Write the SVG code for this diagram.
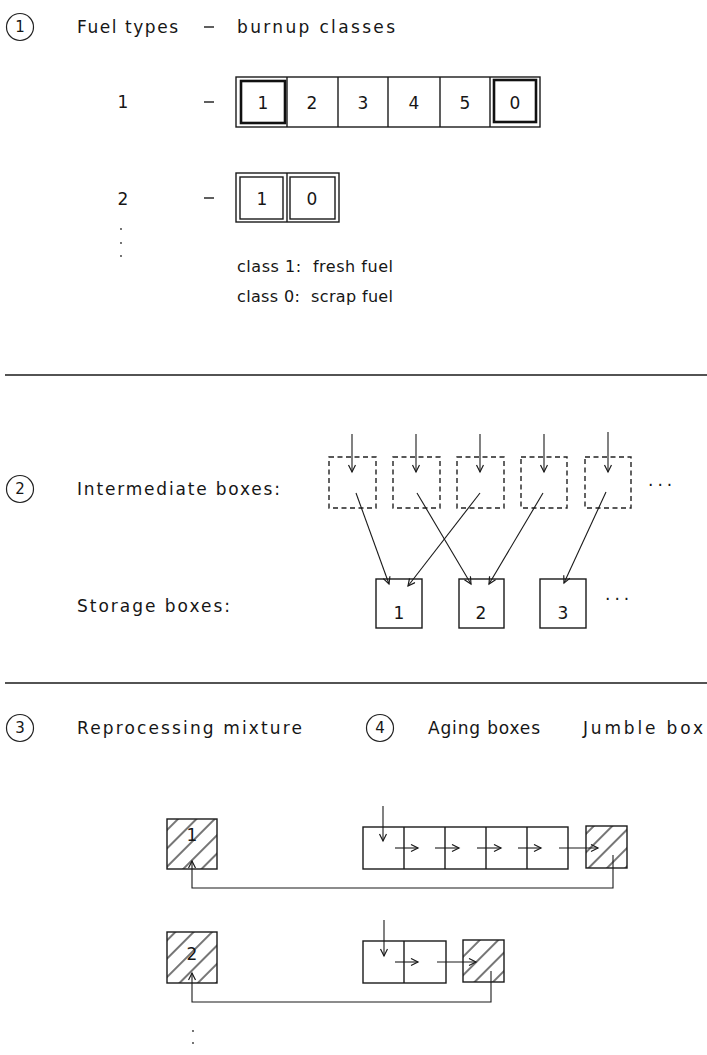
<svg xmlns="http://www.w3.org/2000/svg" width="707" height="1055" viewBox="0 0 707 1055">
<style>
text{font-family:"DejaVu Sans","Liberation Sans",sans-serif;fill:#161616;font-size:17px}
.num{font-size:17px;text-anchor:middle}
.cn{font-size:15px;text-anchor:middle}
.leg{font-size:16px}
.box{fill:none;stroke:#1a1a1a;stroke-width:1.4}
.bold{fill:none;stroke:#111;stroke-width:2.6}
.dash{fill:none;stroke:#222;stroke-width:1.4;stroke-dasharray:5 3.5}
.circ{fill:none;stroke:#222;stroke-width:1.2}
.rule{stroke:#1a1a1a;stroke-width:1.6}
.con{fill:none;stroke:#1a1a1a;stroke-width:1.1}
.hatch{fill:url(#h);stroke:#1a1a1a;stroke-width:1.4}
</style>
<defs>
<marker id="a" markerWidth="10" markerHeight="10" refX="8" refY="4" orient="auto" markerUnits="userSpaceOnUse">
<path d="M1,0.5 L8,4 L1,7.5" fill="none" stroke="#1a1a1a" stroke-width="1.2"/>
</marker>
<pattern id="h" width="13" height="13" patternUnits="userSpaceOnUse" patternTransform="rotate(45)">
<line x1="3" y1="0" x2="3" y2="13" stroke="#1a1a1a" stroke-width="1.2"/>
</pattern>
</defs>

<g id="section1">
<g id="label1">
<circle class="circ" cx="20" cy="27" r="13.5"/>
<text class="cn" x="20" y="32">1</text>
<text x="77" y="33" textLength="101" lengthAdjust="spacing">Fuel types</text>
<line x1="204" y1="27" x2="214" y2="27" stroke="#1a1a1a" stroke-width="1.4"/>
<text x="237" y="33" textLength="158" lengthAdjust="spacing">burnup classes</text>
</g>
<g id="fuel1">
<text x="123" y="108" class="num">1</text>
<line x1="204" y1="102" x2="214" y2="102" stroke="#1a1a1a" stroke-width="1.4"/>
<rect class="box" x="236" y="77" width="304" height="50"/>
<line class="box" x1="287" y1="77" x2="287" y2="127"/>
<line class="box" x1="338" y1="77" x2="338" y2="127"/>
<line class="box" x1="388" y1="77" x2="388" y2="127"/>
<line class="box" x1="440" y1="77" x2="440" y2="127"/>
<line class="box" x1="490" y1="77" x2="490" y2="127"/>
<rect class="bold" x="241" y="81" width="44" height="42"/>
<rect class="bold" x="494" y="80" width="42" height="42"/>
<text class="num" x="263" y="109">1</text>
<text class="num" x="312" y="109">2</text>
<text class="num" x="363" y="109">3</text>
<text class="num" x="414" y="109">4</text>
<text class="num" x="465" y="109">5</text>
<text class="num" x="515" y="109">0</text>
</g>
<g id="fuel2">
<text x="123" y="205" class="num">2</text>
<line x1="204" y1="198" x2="214" y2="198" stroke="#1a1a1a" stroke-width="1.4"/>
<rect class="box" x="236" y="173" width="103" height="49"/>
<line class="box" x1="287" y1="173" x2="287" y2="222"/>
<rect class="box" x="240" y="177" width="43" height="42"/>
<rect class="box" x="290" y="177" width="45" height="42"/>
<text class="num" x="262" y="205">1</text>
<text class="num" x="312" y="205">0</text>
<circle cx="121" cy="229" r="0.9" fill="#333"/>
<circle cx="121" cy="243" r="0.9" fill="#333"/>
<circle cx="121" cy="256" r="0.9" fill="#333"/>
</g>
<g id="legend">
<text class="leg" x="237" y="272" textLength="156" lengthAdjust="spacing" xml:space="preserve">class 1:  fresh fuel</text>
<text class="leg" x="237" y="302" textLength="156" lengthAdjust="spacing" xml:space="preserve">class 0:  scrap fuel</text>
</g>
</g>

<line class="rule" x1="5" y1="375" x2="707" y2="375"/>

<g id="section2">
<g id="label2">
<circle class="circ" cx="20" cy="489" r="13.5"/>
<text class="cn" x="20" y="494">2</text>
<text x="77" y="495" textLength="203" lengthAdjust="spacing">Intermediate boxes:</text>
<text x="77" y="612" textLength="153" lengthAdjust="spacing">Storage boxes:</text>
</g>
<g id="intermediate">
<rect class="dash" x="329" y="457" width="47" height="51"/>
<rect class="dash" x="393" y="457" width="47" height="51"/>
<rect class="dash" x="457" y="457" width="47" height="51"/>
<rect class="dash" x="521" y="457" width="46" height="51"/>
<rect class="dash" x="585" y="457" width="46" height="51"/>
<text x="648" y="486" font-size="14" letter-spacing="4">...</text>
</g>
<g id="storage1"><rect class="box" x="376" y="579" width="46" height="49"/><text class="num" x="399" y="619">1</text></g>
<g id="storage2"><rect class="box" x="459" y="579" width="45" height="49"/><text class="num" x="481" y="619">2</text></g>
<g id="storage3"><rect class="box" x="540" y="579" width="46" height="49"/><text class="num" x="563" y="619">3</text></g>
<text x="605" y="600" font-size="14" letter-spacing="4">...</text>
</g>

<line class="rule" x1="5" y1="683" x2="707" y2="683"/>

<g id="section3">
<circle class="circ" cx="20" cy="728" r="13.5"/>
<text class="cn" x="20" y="733">3</text>
<text x="77" y="734" textLength="225" lengthAdjust="spacing">Reprocessing mixture</text>
</g>
<g id="section4">
<circle class="circ" cx="380" cy="728" r="13.5"/>
<text class="cn" x="380" y="733">4</text>
<text x="428" y="734" textLength="112" lengthAdjust="spacing">Aging boxes</text>
<text x="583" y="734" textLength="120" lengthAdjust="spacing">Jumble box</text>
</g>
<g id="mix1"><rect class="hatch" x="167" y="819" width="50" height="50"/><text class="num" x="192" y="841" font-size="15">1</text></g>
<g id="mix2"><rect class="hatch" x="167" y="932" width="50" height="51"/><text class="num" x="192" y="960" font-size="15">2</text></g>
<g id="aging1">
<rect class="box" x="363" y="827" width="205" height="42"/>
<line class="box" x1="404" y1="827" x2="404" y2="869"/>
<line class="box" x1="445" y1="827" x2="445" y2="869"/>
<line class="box" x1="486" y1="827" x2="486" y2="869"/>
<line class="box" x1="527" y1="827" x2="527" y2="869"/>
</g>
<g id="jumble1"><rect class="hatch" x="586" y="826" width="41" height="42"/></g>
<g id="aging2">
<rect class="box" x="363" y="941" width="83" height="42"/>
<line class="box" x1="404" y1="941" x2="404" y2="983"/>
</g>
<g id="jumble2"><rect class="hatch" x="463" y="940" width="41" height="42"/></g>
<circle cx="193" cy="1031" r="0.9" fill="#333"/>
<circle cx="193" cy="1043" r="0.9" fill="#333"/>

<g id="connectors" class="con">
<line x1="352" y1="434" x2="352" y2="472" marker-end="url(#a)" class="con"/>
<line x1="416" y1="434" x2="416" y2="472" marker-end="url(#a)" class="con"/>
<line x1="480" y1="434" x2="480" y2="472" marker-end="url(#a)" class="con"/>
<line x1="544" y1="434" x2="544" y2="472" marker-end="url(#a)" class="con"/>
<line x1="608" y1="432" x2="608" y2="472" marker-end="url(#a)" class="con"/>
<line x1="356" y1="493" x2="389" y2="584" marker-end="url(#a)" class="con"/>
<line x1="417" y1="493" x2="471" y2="584" marker-end="url(#a)" class="con"/>
<line x1="480" y1="493" x2="408" y2="586" marker-end="url(#a)" class="con"/>
<line x1="543" y1="493" x2="489" y2="584" marker-end="url(#a)" class="con"/>
<line x1="606" y1="492" x2="564" y2="583" marker-end="url(#a)" class="con"/>
<line x1="383" y1="806" x2="383" y2="841" marker-end="url(#a)" class="con"/>
<line x1="395" y1="848" x2="418" y2="848" marker-end="url(#a)" class="con"/>
<line x1="435" y1="848" x2="459" y2="848" marker-end="url(#a)" class="con"/>
<line x1="477" y1="848" x2="501" y2="848" marker-end="url(#a)" class="con"/>
<line x1="518" y1="848" x2="541" y2="848" marker-end="url(#a)" class="con"/>
<line x1="559" y1="848" x2="598" y2="848" marker-end="url(#a)" class="con"/>
<path d="M613,855 V888 H192 V861" marker-end="url(#a)" class="con"/>
<line x1="384" y1="920" x2="384" y2="956" marker-end="url(#a)" class="con"/>
<line x1="395" y1="962" x2="418" y2="962" marker-end="url(#a)" class="con"/>
<line x1="437" y1="962" x2="476" y2="962" marker-end="url(#a)" class="con"/>
<path d="M491,971 V1002 H192 V973" marker-end="url(#a)" class="con"/>
</g>
</svg>
